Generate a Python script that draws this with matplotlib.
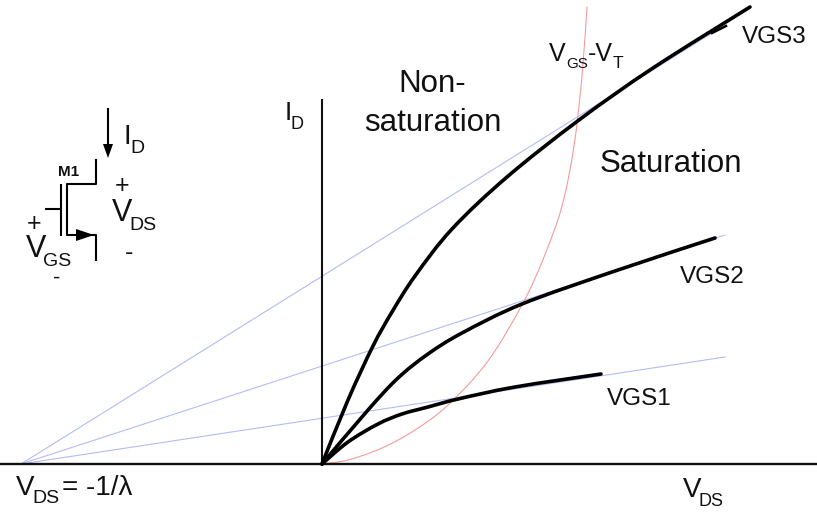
import matplotlib
matplotlib.use("Agg")
import matplotlib.pyplot as plt
from matplotlib.lines import Line2D
from matplotlib.patches import PathPatch, Polygon
from matplotlib.path import Path
from matplotlib.transforms import Affine2D

plt.rcParams["font.family"] = ["Liberation Sans", "DejaVu Sans"]

# values, origin at the I_D / V_DS axis crossing
VGS1_VDS = [0, 26, 56, 80, 106, 136, 193, 279]
VGS1_ID = [0, 22, 40, 50, 57, 65, 77, 90]
VGS2_VDS = [0, 46, 76, 106, 140, 200, 293, 393]
VGS2_ID = [0, 54, 86, 110, 131, 160, 193, 226]
VGS3_VDS = [0, 26, 51, 70, 93, 130, 185, 257, 331, 428]
VGS3_ID = [0, 64, 118, 152, 188, 235, 287, 344, 396, 457]
VGS3_TAIL_VDS = [390, 404]
VGS3_TAIL_ID = [431, 438]
VGS_VT_VDS = [0, 26, 60, 93, 126, 166, 201, 222, 240, 252, 260, 265]
VGS_VT_ID = [0, 4, 16, 34, 59, 103, 161, 207, 258, 318, 388, 457]
EARLY_VDS = -301
LAMBDA_END_VDS = [403, 403, 390]
LAMBDA_END_ID = [107, 229, 431]

H_AXIS = [-322, 495]
V_AXIS = [0, 364]

fig = plt.figure(figsize=(8.17, 5.12), dpi=100)
ax = fig.add_axes([0, 0, 1, 1])
ax.set_xlim(-322, 495)
ax.set_ylim(-48, 464)
ax.axis("off")

# labels and the schematic are placed in image pixels (y down)
pix = Affine2D().scale(1, -1).translate(0, 512)


def smooth_curve(xs, ys, color, lw, zorder):
    """Draw a curve through the read points as a bezier spline."""
    pts = list(zip(xs, ys))
    verts = [pts[0]]
    codes = [Path.MOVETO]
    for i in range(len(pts) - 1):
        p0 = pts[max(i - 1, 0)]
        p1 = pts[i]
        p2 = pts[i + 1]
        p3 = pts[min(i + 2, len(pts) - 1)]
        c1 = (p1[0] + (p2[0] - p0[0]) / 6, p1[1] + (p2[1] - p0[1]) / 6)
        c2 = (p2[0] - (p3[0] - p1[0]) / 6, p2[1] - (p3[1] - p1[1]) / 6)
        verts += [c1, c2, p2]
        codes += [Path.CURVE4] * 3
    ax.add_patch(PathPatch(Path(verts, codes), fill=False, edgecolor=color, lw=lw,
                           capstyle="round", zorder=zorder))


def label(x, y, s, size=19, **kw):
    fig.text(x, y, s, transform=pix, fontsize=size, color="#111111", ha="left", va="baseline", **kw)


def seg(xs, ys, lw=1.5):
    fig.add_artist(Line2D(xs, ys, transform=pix, color="black", lw=lw, solid_capstyle="butt"))


def head(points):
    fig.add_artist(Polygon(points, closed=True, transform=pix, color="black", lw=0))


for end_x, end_y in zip(LAMBDA_END_VDS, LAMBDA_END_ID):
    ax.plot([EARLY_VDS, end_x], [0, end_y], color="#b4bcf5", lw=0.8, zorder=1)
smooth_curve(VGS_VT_VDS, VGS_VT_ID, "#f59a9a", 0.8, 1.5)

ax.plot(H_AXIS, [0, 0], color="#111111", lw=1.7, zorder=2)
ax.plot([0, 0], V_AXIS, color="#111111", lw=1.5, zorder=2)

for xs, ys in [(VGS1_VDS, VGS1_ID), (VGS2_VDS, VGS2_ID), (VGS3_VDS, VGS3_ID)]:
    smooth_curve(xs, ys, "black", 2.6, 3)
ax.plot(VGS3_TAIL_VDS, VGS3_TAIL_ID, color="black", lw=1.8, zorder=3)

# main labels
label(398, 92, "Non-", 22.5)
label(364, 131, "saturation", 22.5)
label(600, 172, "Saturation", 22.5)
label(742, 43, "VGS3", 17.5)
label(680, 283, "VGS2", 17.5)
label(607, 405, "VGS1", 17.5)

label(549, 61, "V", 18)
label(566, 68, "GS", 11)
label(588, 61, "-V", 18)
label(613, 68, "T", 12.5)

label(285, 120, "I", 19)
label(291, 129, "D", 13)
label(683, 497, "V", 20)
label(698, 506, "DS", 13)
label(16, 495, "V", 20)
label(32, 503, "DS", 14)
label(62, 495, "= -1/\u03bb", 20)

# transistor symbol
seg([108, 108], [108, 146])
head([(103, 144), (113, 144), (108, 158)])
seg([96, 96, 67, 67, 96, 96], [159, 184, 184, 235, 235, 261])
seg([60.5, 60.5], [184, 236])
seg([45, 60.5], [209, 209])
head([(76, 229), (76, 241), (94, 235)])

label(58, 176, "M1", 11, fontweight="bold")
label(123, 144, "I", 20)
label(130, 153, "D", 14)
label(115, 193, "+", 18)
label(112, 221, "V", 22)
label(129, 230, "DS", 14)
label(125, 260, "-", 18)
label(27, 231, "+", 18)
label(26, 257, "V", 22)
label(43, 266, "GS", 14)
label(53, 284, "-", 16)

fig.savefig("out.png", dpi=100)
plt.close(fig)
